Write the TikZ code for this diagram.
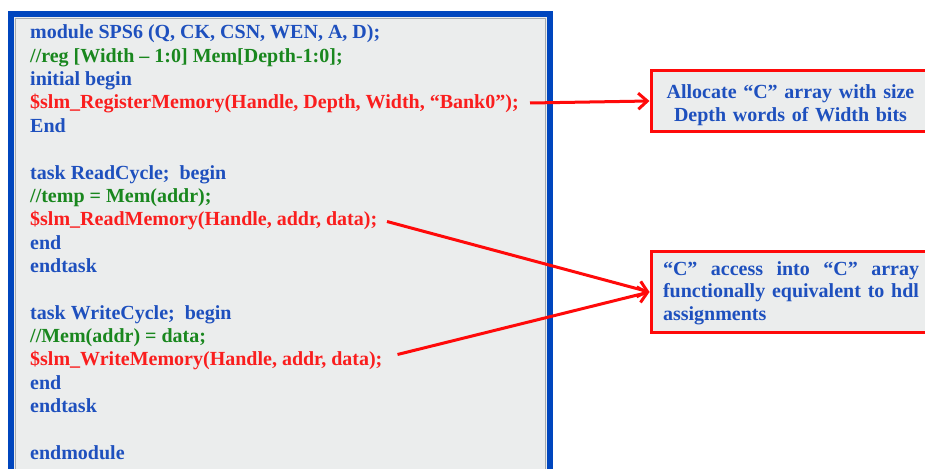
\documentclass[tikz,border=0pt]{standalone}
\usepackage{fontspec}
\setmainfont{Liberation Serif}
\usetikzlibrary{arrows.meta}

\definecolor{codeblue}{RGB}{30,80,190}
\definecolor{codegreen}{RGB}{25,135,30}
\definecolor{codered}{RGB}{250,30,30}
\definecolor{frameblue}{RGB}{0,70,190}
\definecolor{panelgray}{RGB}{235,237,237}
\definecolor{rimgray}{RGB}{165,170,175}
\definecolor{callred}{RGB}{255,10,10}

\begin{document}
\begin{tikzpicture}[x=1pt,y=-1pt,
  codeline/.style={anchor=base west, inner sep=0pt, font=\bfseries\fontsize{20}{23}\selectfont},
  kw/.style={codeline, text=codeblue},
  cmt/.style={codeline, text=codegreen},
  call/.style={codeline, text=codered},
  notebox/.style={draw=callred, line width=3pt, fill=panelgray, anchor=west,
    minimum width=290pt, inner sep=0pt},
  notetext/.style={text width=256pt, inner sep=0pt, text=codeblue, anchor=center},
  pointer/.style={draw=callred, line width=3pt, -{Straight Barb[length=9pt,width=16pt]}}
]
\useasboundingbox (0,0) rectangle (925,468);
\clip (0,0) rectangle (925,468);

% code panel
\draw[frameblue, line width=6pt, fill=panelgray] (11,14) rectangle (550,500);
\draw[rimgray, line width=0.8pt] (15.6,18.2) rectangle (545.6,500);

% module source
\node[kw]   (l0)  at (30, 39.00) {module SPS6 (Q, CK, CSN, WEN, A, D);};
\node[cmt]  (l1)  at (30, 62.33) {//reg [Width – 1:0] Mem[Depth-1:0];};
\node[kw]   (l2)  at (30, 85.66) {initial begin};
\node[call] (reg) at (30,109.00) {\$slm\_RegisterMemory(Handle, Depth, Width, “Bank0”);};
\node[kw]   (l4)  at (30,132.33) {End};

\node[kw]   (l6)  at (30,179.00) {task ReadCycle;\ \ begin};
\node[cmt]  (l7)  at (30,202.33) {//temp = Mem(addr);};
\node[call] (rd)  at (30,225.66) {\$slm\_ReadMemory(Handle, addr, data);};
\node[kw]   (l9)  at (30,249.00) {end};
\node[kw]   (l10) at (30,272.33) {endtask};

\node[kw]   (l12) at (30,319.00) {task WriteCycle;\ \ begin};
\node[cmt]  (l13) at (30,342.33) {//Mem(addr) = data;};
\node[call] (wr)  at (30,365.66) {\$slm\_WriteMemory(Handle, addr, data);};
\node[kw]   (l15) at (30,389.00) {end};
\node[kw]   (l16) at (30,412.33) {endtask};

\node[kw]   (l18) at (30,459.00) {endmodule};

% explanatory notes
\node[notebox, minimum height=61pt] (alloc)  at (649.5,101) {};
\node[notebox, minimum height=81pt] (access) at (649.5,292) {};
\node[notetext, align=center, font=\bfseries\fontsize{20}{23.5}\selectfont] (alloctext) at (790.5,105)
  {Allocate “C” array with size\\Depth words of Width bits};
\node[notetext, align=justify, font=\bfseries\fontsize{20}{22.5}\selectfont] (accesstext) at (791,292.8)
  {“C” access into “C” array\linebreak functionally equivalent to hdl\linebreak assignments};

% pointers from the calls to the notes
\coordinate (regtail) at (530,103);
\coordinate (rdtail)  at (387,221.5);
\coordinate (wrtail)  at (397.5,354.5);
\draw[pointer] (regtail) -- (alloc.west);
\draw[pointer] (rdtail)  -- (access.west);
\draw[pointer] (wrtail)  -- (access.west);
\end{tikzpicture}
\end{document}
